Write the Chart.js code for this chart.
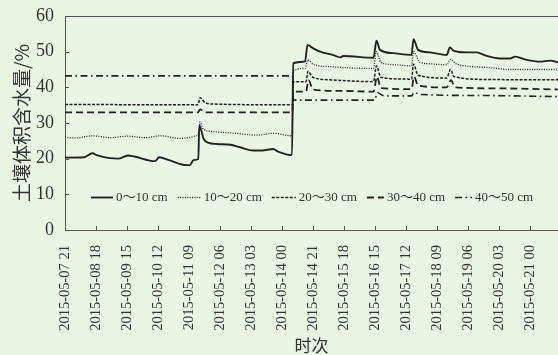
<!DOCTYPE html>
<html>
<head>
<meta charset="utf-8">
<script src="https://cdn.jsdelivr.net/npm/chart.js@4.4.1/dist/chart.umd.min.js"></script>
<style>
  html, body { margin: 0; padding: 0; background: #eaf5e3; }
  #wrap { width: 558px; height: 355px; }
</style>
</head>
<body>
<div id="wrap"><canvas id="chart" width="558" height="355"></canvas></div>
<script>
// Time axis: hours counted from 2015-05-07 21:00, one tick every 21 h
const tickLabels = [
  '2015-05-07 21', '2015-05-08 18', '2015-05-09 15', '2015-05-10 12',
  '2015-05-11 09', '2015-05-12 06', '2015-05-13 03', '2015-05-14 00',
  '2015-05-14 21', '2015-05-15 18', '2015-05-16 15', '2015-05-17 12',
  '2015-05-18 09', '2015-05-19 06', '2015-05-20 03', '2015-05-21 00'
];
const tickStepHours = 21;
const lastHour = 334;

const seriesNames = ['0～10 cm', '10～20 cm', '20～30 cm', '30～40 cm', '40～50 cm'];

// Soil volumetric water content (%) by depth: hour offsets and readings
const hours0_10 = [0, 13, 18.5, 22, 36, 42.7, 47, 61, 63.7, 71, 82.4, 84.7, 87, 90.3, 91, 94, 97, 103, 112, 118.6,
  127.4, 133.5, 141, 144.3, 153.8, 154.6, 162.6, 164.3, 167.1, 172.8, 181.6, 186.3, 188.7, 209, 211, 213.4, 222.2, 234.8, 236.1, 239.2,
  247.3, 258.6, 260.8, 263.1, 272.2, 278.9, 285.7, 294.7, 301.5, 304.9, 312.8, 321.8, 328.6, 334];
const water0_10 = [20.3, 20.4, 21.5, 20.9, 20.0, 20.9, 20.6, 19.3, 20.4, 19.5, 18.2, 18.2, 19.6, 19.9, 29.3, 25.5, 24.5, 24.1, 23.9, 23.2,
  22.3, 22.3, 22.7, 22.0, 21.0, 46.7, 47.2, 51.9, 51.2, 50.0, 49.1, 48.4, 48.8, 48.3, 53.1, 50.5, 49.6, 49.1, 53.5, 50.5,
  49.8, 49.1, 51.2, 50.3, 49.8, 49.8, 48.8, 48.1, 48.1, 48.6, 47.7, 47.2, 47.5, 47.0];

const hours10_20 = [0, 6.8, 19, 30.5, 42.7, 54, 64.4, 78, 88, 90.3, 91.5, 93.7, 100.3, 116.3, 129.9, 141, 153.8, 154.6, 162.6, 164.6,
  168, 179.5, 209, 211, 214, 224.7, 234.8, 236.1, 240.5, 247.3, 258.6, 261.2, 265.4, 285.7, 301.5, 334];
const water10_20 = [26.0, 25.8, 26.4, 25.9, 26.3, 25.9, 26.4, 25.7, 26.3, 27.0, 30.3, 28.3, 27.6, 27.1, 26.6, 27.1, 26.4, 44.6, 45.3, 47.7,
  46.5, 45.8, 45.3, 50.0, 47.0, 46.3, 46.0, 50.0, 47.0, 46.6, 46.3, 47.8, 46.5, 45.6, 45.0, 45.0];

const hours20_30 = [0, 90.1, 91.5, 94.9, 101.6, 154.1, 154.6, 163.3, 164.6, 168, 179.5, 209, 211, 214, 234.8, 236.1, 239.2, 258.6, 261.2, 263.6, 285.7, 334];
const water20_30 = [35.2, 35.1, 37.1, 35.7, 35.3, 35.1, 41.5, 41.6, 44.5, 42.8, 42.1, 41.6, 46.0, 42.8, 42.3, 46.5, 43.4, 42.6, 45.0, 43.0, 42.2, 42.1];

const hours30_40 = [0, 90.1, 91.5, 94.9, 154.1, 154.6, 163.3, 165, 168, 186.3, 209, 211.4, 214, 234.8, 236.5, 239.2, 258.6, 261.5, 264.2, 294.7, 334];
const water30_40 = [33.0, 33.0, 33.8, 33.0, 33.0, 38.8, 38.8, 42.0, 39.4, 39.0, 38.8, 43.0, 39.8, 39.5, 43.0, 40.5, 40.0, 42.0, 40.0, 39.7, 39.4];

const hours40_50 = [0, 154.1, 154.6, 209.6, 211.7, 216.4, 234.8, 236.5, 240.5, 285.7, 334];
const water40_50 = [43.2, 43.2, 36.4, 36.4, 38.5, 37.6, 37.6, 38.6, 38.0, 37.7, 37.4];

const ink = '#222222';
const axisColor = '#555555';
const textColor = '#333333';
const serif = '"Liberation Serif", "Times New Roman", "Noto Sans CJK SC", serif';
const cjk = '"Noto Sans CJK SC", sans-serif';

const pairs = (xs, ys) => xs.map((h, i) => ({ x: h, y: ys[i] }));

const lineStyles = [
  { width: 1.9, dash: [] },
  { width: 1.3, dash: [1, 1.4] },
  { width: 1.5, dash: [3, 1.5] },
  { width: 1.8, dash: [7, 4] },
  { width: 1.6, dash: [7, 3.5, 1.5, 3.5] }
];
const legendSample = [22, 23, 24, 17, 17];

const seriesData = [
  pairs(hours0_10, water0_10),
  pairs(hours10_20, water10_20),
  pairs(hours20_30, water20_30),
  pairs(hours30_40, water30_40),
  pairs(hours40_50, water40_50)
];

const datasets = seriesNames.map((name, i) => ({
  label: name,
  data: seriesData[i],
  borderColor: ink,
  borderWidth: lineStyles[i].width,
  borderDash: lineStyles[i].dash,
  pointRadius: 0,
  fill: false,
  cubicInterpolationMode: 'monotone'
}));

// Page background behind the canvas content
const backdrop = {
  id: 'backdrop',
  beforeDraw(chart) {
    const { ctx, width, height } = chart;
    ctx.save();
    ctx.fillStyle = '#eaf5e3';
    ctx.fillRect(0, 0, width, height);
    ctx.restore();
  }
};

// Frame top line and inward-pointing tick marks
const frameTicks = {
  id: 'frameTicks',
  afterDraw(chart) {
    const { ctx, chartArea: a, scales } = chart;
    const x = scales.x, y = scales.y;
    ctx.save();
    ctx.strokeStyle = axisColor;
    ctx.lineWidth = 1;
    ctx.beginPath();
    ctx.moveTo(a.left, Math.round(a.top) + 0.5);
    ctx.lineTo(a.right, Math.round(a.top) + 0.5);
    x.ticks.forEach((t, i) => {
      const px = Math.round(x.getPixelForTick(i)) + 0.5;
      ctx.moveTo(px, a.bottom);
      ctx.lineTo(px, a.bottom - 4);
    });
    y.ticks.forEach((t, i) => {
      const py = Math.round(y.getPixelForTick(i)) + 0.5;
      ctx.moveTo(a.left, py);
      ctx.lineTo(a.left + 4, py);
    });
    ctx.stroke();
    ctx.restore();
  }
};

// Legend laid out in one row inside the plot area
const innerLegend = {
  id: 'innerLegend',
  afterDraw(chart) {
    const { ctx, chartArea: a } = chart;
    const cy = a.bottom - 33;
    let cx = a.left + 26;
    ctx.save();
    ctx.font = '13px ' + serif;
    ctx.fillStyle = textColor;
    ctx.textBaseline = 'middle';
    ctx.textAlign = 'left';
    chart.data.datasets.forEach((ds, i) => {
      const len = legendSample[i];
      ctx.strokeStyle = ds.borderColor;
      ctx.lineWidth = ds.borderWidth;
      ctx.setLineDash(ds.borderDash);
      ctx.beginPath();
      ctx.moveTo(cx, cy + 0.5);
      ctx.lineTo(cx + len, cy + 0.5);
      ctx.stroke();
      ctx.setLineDash([]);
      cx += len + 3;
      ctx.fillText(ds.label, cx, cy + 1);
      cx += ctx.measureText(ds.label).width + 10;
    });
    ctx.restore();
  }
};

new Chart(document.getElementById('chart'), {
  type: 'line',
  data: { datasets },
  plugins: [backdrop, frameTicks, innerLegend],
  options: {
    responsive: false,
    animation: false,
    devicePixelRatio: 1,
    layout: { padding: { top: 16, right: 0, bottom: 0, left: 0 } },
    plugins: {
      legend: { display: false },
      tooltip: { enabled: false }
    },
    scales: {
      x: {
        type: 'linear',
        min: 0,
        max: lastHour,
        grid: { display: false },
        border: { display: true, color: axisColor, width: 1 },
        afterBuildTicks: (scale) => {
          scale.ticks = tickLabels.map((_, i) => ({ value: i * tickStepHours }));
        },
        afterFit: (scale) => { scale.height = 125; },
        ticks: {
          autoSkip: false,
          minRotation: 90,
          maxRotation: 90,
          padding: 7,
          color: textColor,
          font: { family: serif, size: 14.5 },
          callback: (value) => tickLabels[Math.round(value / tickStepHours)] ?? ''
        },
        title: {
          display: true,
          text: '时次',
          color: textColor,
          font: { family: cjk, size: 17, lineHeight: 1 },
          padding: { top: 0, bottom: 1 }
        }
      },
      y: {
        min: 0,
        max: 60,
        grid: { display: false },
        border: { display: true, color: axisColor, width: 1 },
        afterFit: (scale) => { scale.width = 65; },
        ticks: {
          stepSize: 10,
          padding: 3,
          color: textColor,
          font: { family: serif, size: 18 }
        },
        title: {
          display: true,
          text: '土壤体积含水量/%',
          color: textColor,
          font: { family: cjk, size: 19, lineHeight: 1.2 },
          padding: { top: 10, bottom: 0 }
        }
      }
    }
  }
});
</script>
</body>
</html>
